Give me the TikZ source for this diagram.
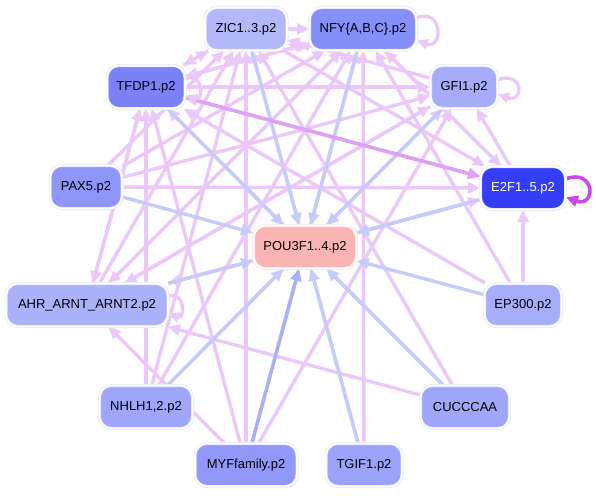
\documentclass[tikz,border=0pt]{standalone}
\usepackage{fontspec}
\setmainfont{Liberation Sans}
\usetikzlibrary{arrows.meta}
\pgfdeclarelayer{background}
\pgfsetlayers{background,main}
\definecolor{pinkE}{RGB}{236,200,250}
\definecolor{blueE}{RGB}{196,204,250}
\definecolor{blueD}{RGB}{168,176,246}
\definecolor{strongE}{RGB}{222,162,242}
\definecolor{loopE}{RGB}{200,72,240}
\definecolor{rimC}{RGB}{226,229,252}
\definecolor{cZIC}{RGB}{178,184,250}
\definecolor{cNFY}{RGB}{134,144,250}
\definecolor{cTFDP}{RGB}{122,130,246}
\definecolor{cGFI}{RGB}{166,172,250}
\definecolor{cPAX}{RGB}{142,150,250}
\definecolor{cE2F}{RGB}{52,62,248}
\definecolor{cPOU}{RGB}{251,180,180}
\definecolor{cAHR}{RGB}{172,178,250}
\definecolor{cEP}{RGB}{166,174,250}
\definecolor{cNHLH}{RGB}{160,166,250}
\definecolor{cCU}{RGB}{160,166,250}
\definecolor{cMYF}{RGB}{146,152,250}
\definecolor{cTGIF}{RGB}{156,164,250}
\tikzset{
  tf/.style={rounded corners=12pt, draw=rimC, double=white, double distance=1.6pt,
    line width=0.7pt, minimum height=43pt, inner xsep=4pt, align=center,
    font=\fontsize{13}{15}\selectfont, text=black},
  reg/.style={draw=pinkE, line width=3.4pt, -{Triangle[length=12pt,width=11pt]}},
  tou/.style={draw=blueE, line width=3.4pt, -{Triangle[length=12pt,width=11pt]}},
  toud/.style={draw=blueD, line width=3.4pt, -{Triangle[length=12pt,width=11pt]}},
  strong/.style={draw=strongE, line width=3.6pt, -{Triangle[length=12pt,width=11pt]}},
  selfreg/.style={draw=pinkE, line width=3.4pt, -{Triangle[length=11pt,width=10pt]}, out=20, in=-20, looseness=1, min distance=28pt},
  selfstrong/.style={draw=loopE, line width=3.6pt, -{Triangle[length=12pt,width=11pt]}, out=20, in=-20, looseness=1, min distance=32pt}
}
\begin{document}
\begin{tikzpicture}[x=1pt,y=-1pt]
\useasboundingbox (0,0) rectangle (596,495);
\node[tf, fill=cZIC, minimum width=82pt] (zic) at (246,29) {ZIC1..3.p2};
\node[tf, fill=cNFY, minimum width=107pt] (nfy) at (363,29) {NFY\{A,B,C\}.p2};
\node[tf, fill=cTFDP, minimum width=78pt] (tfdp) at (146,87) {TFDP1.p2};
\node[tf, fill=cGFI, minimum width=67pt] (gfi) at (464,87) {GFI1.p2};
\node[tf, fill=cPAX, minimum width=72pt] (pax) at (86,187) {PAX5.p2};
\node[tf, fill=cE2F, minimum width=85pt, text=white] (e2f) at (523,188) {E2F1..5.p2};
\node[tf, fill=cPOU, minimum width=103pt, draw={rgb,255:red,252;green,226;blue,226}] (pou) at (305,247) {POU3F1..4.p2};
\node[tf, fill=cAHR, minimum width=162pt] (ahr) at (87,305) {AHR\_ARNT\_ARNT2.p2};
\node[tf, fill=cEP, minimum width=77pt] (ep) at (523,305) {EP300.p2};
\node[tf, fill=cNHLH, minimum width=93pt] (nhlh) at (146,407) {NHLH1,2.p2};
\node[tf, fill=cCU, minimum width=89pt] (cu) at (465,407) {CUCCCAA};
\node[tf, fill=cMYF, minimum width=102pt] (myf) at (246,465) {MYFfamily.p2};
\node[tf, fill=cTGIF, minimum width=76pt] (tgif) at (364,465) {TGIF1.p2};
\begin{pgfonlayer}{background}
% regulatory edges among factors
\draw[reg] (tfdp) -- (zic);
\draw[reg] (tfdp) -- (nfy);
\draw[reg] (tfdp) -- (gfi);
\draw[reg] (tfdp) -- (ahr);
\draw[reg] (zic) -- (tfdp);
\draw[reg] (zic) -- (e2f);
\draw[reg] (nfy) -- (tfdp);
\draw[reg] (nfy) -- (e2f);
\draw[reg] (nfy) -- (ahr);
\draw[reg] (gfi) -- (zic);
\draw[reg] (gfi) -- (ahr);
\draw[reg] (e2f) -- (tfdp);
\draw[reg] (e2f) -- (nfy);
\draw[reg] (e2f) -- (gfi);
\draw[reg] (e2f) -- (ahr);
\draw[reg] (pax) -- (e2f);
\draw[reg] (pax) -- (zic);
\draw[reg] (pax) -- (nfy);
\draw[reg] (pax) -- (gfi);
\draw[reg] (ahr) -- (zic);
\draw[reg] (ahr) -- (nfy);
\draw[reg] (ahr) -- (tfdp);
\draw[reg] (ahr) -- (e2f);
\draw[reg] (ahr) -- (gfi);
\draw[reg] (ep) -- (e2f);
\draw[reg] (ep) -- (nfy);
\draw[reg] (ep) -- (tfdp);
\draw[reg] (nhlh) -- (tfdp);
\draw[reg] (nhlh) -- (zic);
\draw[reg] (nhlh) -- (nfy);
\draw[reg] (nhlh) -- (gfi);
\draw[reg] (cu) -- (tfdp);
\draw[reg] (cu) -- (ahr);
\draw[reg] (cu) -- (zic);
\draw[reg] (myf) -- (zic);
\draw[reg] (myf) -- (nfy);
\draw[reg] (myf) -- (tfdp);
\draw[reg] (myf) -- (gfi);
\draw[reg] (myf) -- (ahr);
\draw[reg] (tgif) -- (nfy);
\draw[reg] (tgif) -- (zic);
\draw[reg] (zic.east) -- (nfy.west);
\draw[reg] (nfy.200) -- (zic.-20);
% edges to POU3F
\draw[tou] (zic) -- (pou);
\draw[tou] (nfy) -- (pou);
\draw[tou] (tfdp) -- (pou);
\draw[tou] (gfi) -- (pou);
\draw[tou] (pax) -- (pou);
\draw[tou] (e2f) -- (pou);
\draw[tou] (ahr) -- (pou);
\draw[tou] (ep) -- (pou);
\draw[tou] (nhlh) -- (pou);
\draw[tou] (cu) -- (pou);
\draw[toud] (myf) -- (pou);
\draw[tou] (tgif) -- (pou);
% strong edge
\draw[strong] (tfdp) -- (e2f);
% self loops
\draw[selfreg] (nfy.12) to (nfy.-12);
\draw[selfreg] (gfi.12) to (gfi.-12);
\draw[selfreg, min distance=20pt] (tfdp.12) to (tfdp.-12);
\draw[selfreg, min distance=18pt] (ahr.6) to (ahr.-6);
\draw[selfstrong] (e2f.12) to (e2f.-12);
\end{pgfonlayer}
\end{tikzpicture}
\end{document}
